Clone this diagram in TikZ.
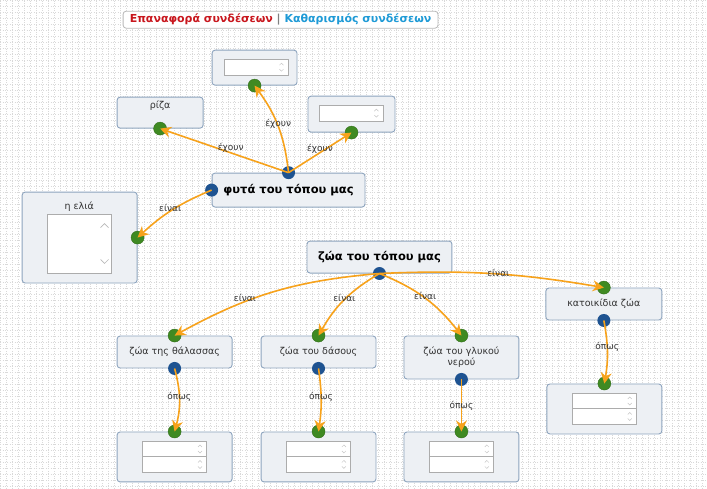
\documentclass[tikz,border=0pt]{standalone}
\usepackage{fontspec}
\setmainfont{DejaVu Sans}
\usetikzlibrary{arrows.meta}

\definecolor{cardfill}{HTML}{EDF0F4}
\definecolor{cardline}{HTML}{8DA4BE}
\definecolor{linkorange}{HTML}{F7A21B}
\definecolor{dotgreen}{HTML}{3F8A22}
\definecolor{dotblue}{HTML}{1E5391}
\definecolor{resetred}{HTML}{C8161D}
\definecolor{clearblue}{HTML}{1E9AD6}
\definecolor{labelgray}{HTML}{333333}

\tikzset{
	card/.style={draw=cardline, fill=cardfill, rounded corners=3pt, line width=0.9pt, inner sep=0pt, align=center, text=labelgray, font=\fontsize{9.5}{11}\selectfont},
	headcard/.style={card, font=\bfseries\fontsize{11.5}{13}\selectfont, text=black},
	field/.style={draw=gray!65, fill=white, line width=0.8pt, inner sep=0pt, minimum width=64pt, minimum height=16pt},
	spin/.style={draw=gray!45, line width=0.5pt},
	indot/.style={circle, fill=dotgreen, draw=dotgreen!80!black, line width=0.4pt, inner sep=0pt, minimum size=13pt},
	outdot/.style={circle, fill=dotblue, inner sep=0pt, minimum size=13pt},
	link/.style={draw=linkorange, line width=1.6pt, -{Stealth[length=11pt,width=11pt,inset=3.5pt]}},
	linklabel/.style={font=\fontsize{9}{10}\selectfont, text=labelgray, inner sep=1pt},
}

\begin{document}
\begin{tikzpicture}[x=1pt,y=1pt]
	\fill[white] (0,0) rectangle (707,-488);
	\draw[gray!30, dotted, step=6pt] (0,-488) grid (707,0);
	\useasboundingbox (0,0) rectangle (707,-488);

	\node[draw=gray!55, fill=white, rounded corners=3pt, line width=0.8pt, minimum width=315pt, minimum height=17pt, inner sep=0pt, font=\bfseries\fontsize{11}{12}\selectfont] (toolbar) at (280.5,-19.5)
		{\textcolor{resetred}{Επαναφορά συνδέσεων} \textcolor{gray}{|} \textcolor{clearblue}{Καθαρισμός συνδέσεων}};

	\node[card, minimum width=85pt, minimum height=35pt] (topcard) at (254.5,-67.5) {};
	\node[card, minimum width=86pt, minimum height=31pt] (riza) at (160,-112.5) {ρίζα\\[4pt]};
	\node[card, minimum width=87pt, minimum height=36pt] (rightcard) at (351.5,-114) {};
	\node[headcard, minimum width=153pt, minimum height=34pt] (plants) at (288.5,-190) {φυτά του τόπου μας};
	\node[card, minimum width=115pt, minimum height=91pt] (olive) at (79.5,-237.5) {};
	\node[linklabel, font=\fontsize{9.5}{11}\selectfont] (olivetitle) at (79,-207) {η ελιά};
	\node[headcard, minimum width=145pt, minimum height=32pt] (animals) at (379.5,-257) {ζώα του τόπου μας};
	\node[card, minimum width=116pt, minimum height=32pt] (pets) at (604,-304) {κατοικίδια ζώα};
	\node[card, minimum width=115pt, minimum height=32pt] (sea) at (174.5,-352) {ζώα της θάλασσας};
	\node[card, minimum width=115pt, minimum height=32pt] (forest) at (318.5,-352) {ζώα του δάσους};
	\node[card, minimum width=115pt, minimum height=43pt] (fresh) at (461.5,-357.5) {ζώα του γλυκού\\νερού};
	\node[card, minimum width=115pt, minimum height=50pt] (seaout) at (174.5,-457) {};
	\node[card, minimum width=115pt, minimum height=50pt] (forestout) at (318.5,-457) {};
	\node[card, minimum width=115pt, minimum height=50pt] (freshout) at (461.5,-457) {};
	\node[card, minimum width=115pt, minimum height=50pt] (petsout) at (604.5,-409) {};

	\node[field] (topfield) at (256,-67) {};
	\node[field] (rightfield) at (351,-113) {};
	\node[field, minimum height=59pt] (olivelist) at (79,-243.5) {};
	\node[field, minimum height=15.5pt] (seafielda) at (174.5,-449) {};
	\node[field, minimum height=15.5pt] (seafieldb) at (174.5,-464.5) {};
	\node[field, minimum height=15.5pt] (forestfielda) at (318.5,-449) {};
	\node[field, minimum height=15.5pt] (forestfieldb) at (318.5,-464.5) {};
	\node[field, minimum height=15.5pt] (freshfielda) at (461.5,-449) {};
	\node[field, minimum height=15.5pt] (freshfieldb) at (461.5,-464.5) {};
	\node[field, minimum height=15.5pt] (petsfielda) at (604.5,-401) {};
	\node[field, minimum height=15.5pt] (petsfieldb) at (604.5,-416.5) {};

	\foreach \f in {topfield,rightfield,seafielda,seafieldb,forestfielda,forestfieldb,freshfielda,freshfieldb,petsfielda,petsfieldb}{
		\draw[spin] ([shift={(-9,2)}]\f.east) -- ++(2,2) -- ++(2,-2);
		\draw[spin] ([shift={(-9,-2)}]\f.east) -- ++(2,-2) -- ++(2,2);
	}
	\draw[gray!55, line width=0.7pt] ([shift={(-11,-14)}]olivelist.north east) -- ++(4,4) -- ++(4,-4);
	\draw[gray!55, line width=0.7pt] ([shift={(-11,14)}]olivelist.south east) -- ++(4,-4) -- ++(4,4);

	\node[indot] (topin) at (topcard.south) {};
	\node[indot] (rizain) at (riza.south) {};
	\node[indot] (rightin) at (rightcard.south) {};
	\node[outdot] (plantstop) at (plants.north) {};
	\node[outdot] (plantsleft) at (plants.west) {};
	\node[indot] (olivein) at (olive.east) {};
	\node[outdot] (animalsout) at (animals.south) {};
	\node[indot] (petsin) at (pets.north) {};
	\node[outdot] (petsfrom) at (pets.south) {};
	\node[indot] (seain) at (sea.north) {};
	\node[outdot] (seafrom) at (sea.south) {};
	\node[indot] (forestin) at (forest.north) {};
	\node[outdot] (forestfrom) at (forest.south) {};
	\node[indot] (freshin) at (fresh.north) {};
	\node[outdot] (freshfrom) at (fresh.south) {};
	\node[indot] (seaoutin) at (seaout.north) {};
	\node[indot] (forestoutin) at (forestout.north) {};
	\node[indot] (freshoutin) at (freshout.north) {};
	\node[indot] (petsoutin) at (petsout.north) {};

	\draw[link] (plantstop.center) -- node[linklabel, pos=0.45, yshift=5pt] {έχουν} (rizain.center);
	\draw[link] (plantstop.center) to[bend right=15] node[linklabel, pos=0.5, yshift=3pt] {έχουν} (topin.center);
	\draw[link] (plantstop.center) -- node[linklabel, pos=0.5, yshift=4pt] {έχουν} (rightin.center);
	\draw[link] (plantsleft.center) to[bend right=10] node[linklabel, pos=0.5, xshift=-2pt, yshift=2pt] {είναι} (olivein.center);

	\draw[link] (animalsout.center) to[bend right=12] node[linklabel, pos=0.65, yshift=4pt] {είναι} (seain.center);
	\draw[link] (animalsout.center) to[bend right=15] node[linklabel, pos=0.5, yshift=2pt] {είναι} (forestin.center);
	\draw[link] (animalsout.center) to[bend left=15] node[linklabel, pos=0.5, yshift=2pt] {είναι} (freshin.center);
	\draw[link] (animalsout.center) to[bend left=6] node[linklabel, pos=0.53, yshift=1pt] {είναι} (petsin.center);

	\draw[link] (seafrom.center) to[bend left=15] node[linklabel, pos=0.45] {όπως} (seaoutin.center);
	\draw[link] (forestfrom.center) to[bend left=8] node[linklabel, pos=0.45] {όπως} (forestoutin.center);
	\draw[link] (freshfrom.center) -- node[linklabel, pos=0.5] {όπως} (freshoutin.center);
	\draw[link] (petsfrom.center) to[bend left=10] node[linklabel, pos=0.42] {όπως} (petsoutin.center);
\end{tikzpicture}
\end{document}
